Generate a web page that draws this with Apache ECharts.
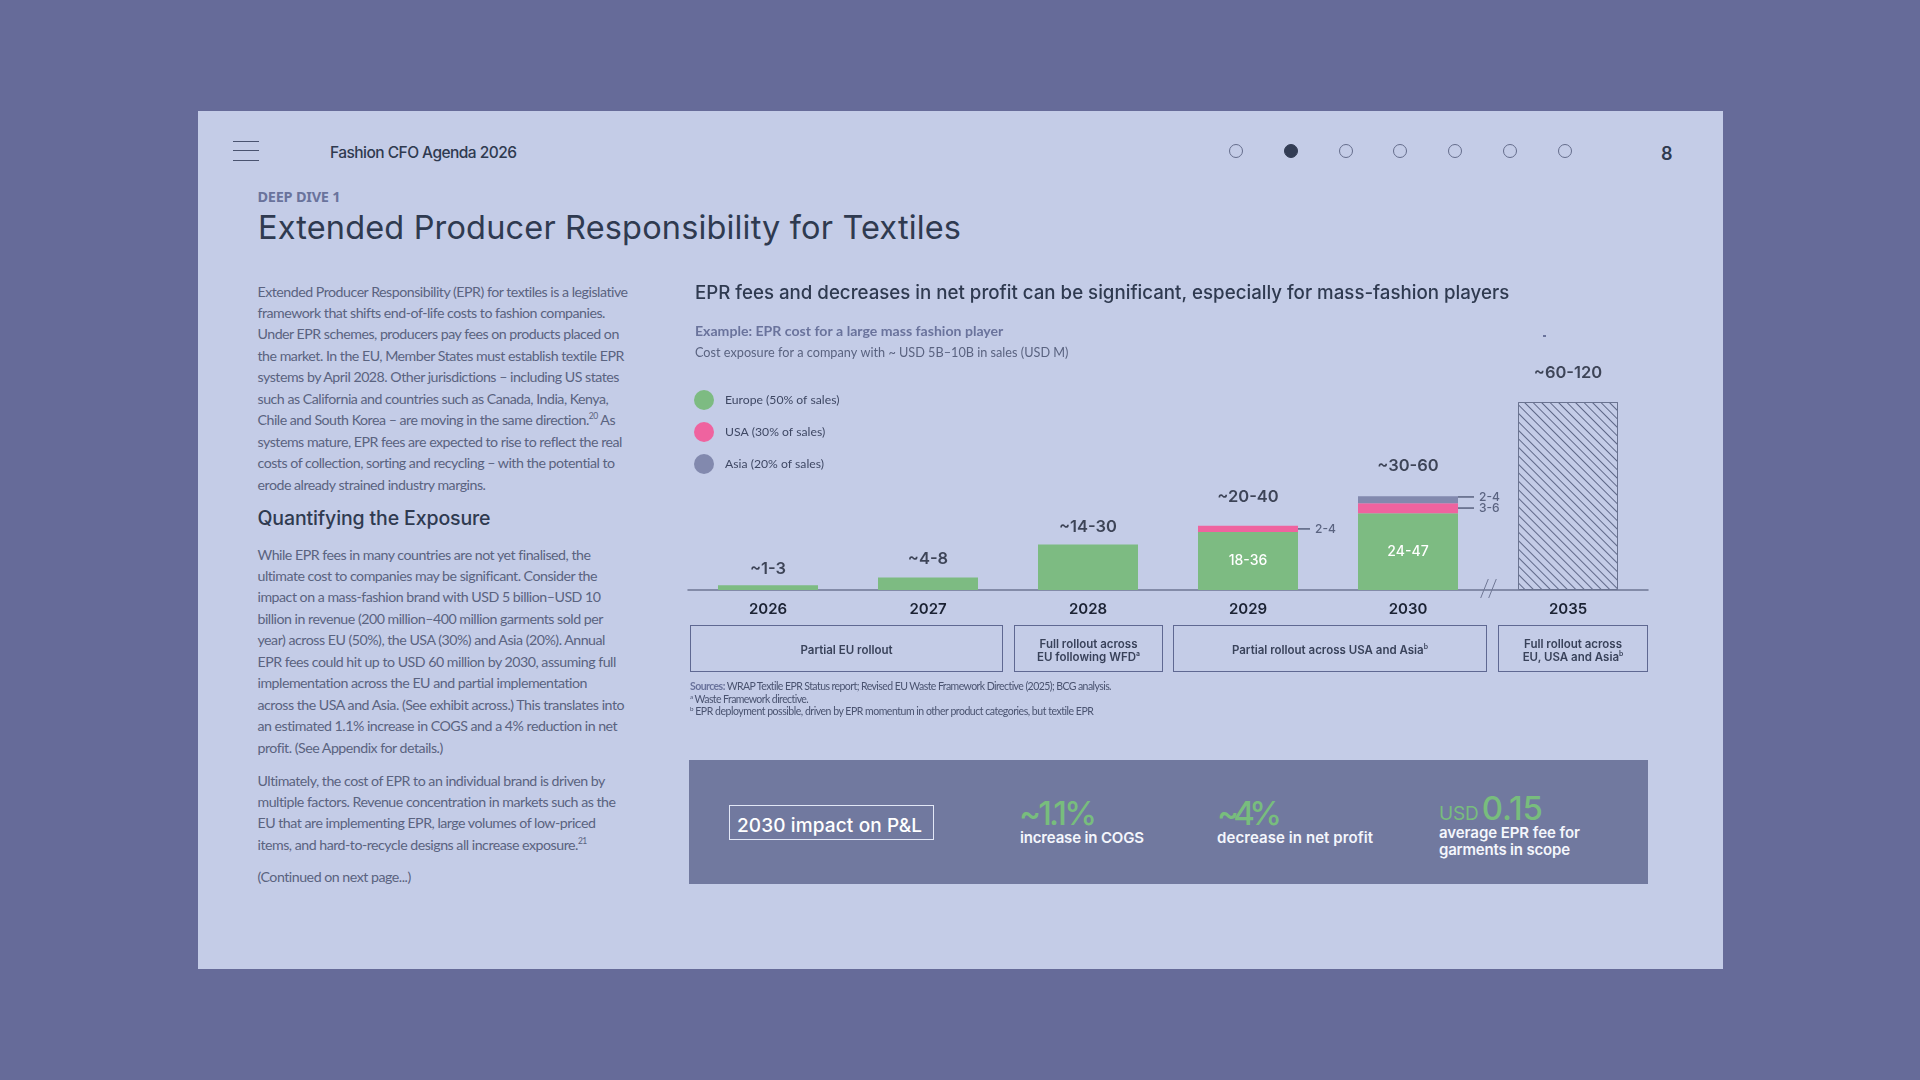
<!DOCTYPE html>
<html><head><meta charset="utf-8">
<script src="https://cdn.jsdelivr.net/npm/echarts@6/dist/echarts.min.js"></script>
<style>
html,body{margin:0;padding:0;width:1920px;height:1080px;overflow:hidden;background:#666b99}
#panel{position:absolute;left:198px;top:111px;width:1525px;height:858px;background:#c4cce7}
#chart{position:absolute;left:680px;top:270px;width:1000px;height:460px}
.t{position:absolute;white-space:nowrap;transform:translateY(-50%);line-height:1.2}
.box{position:absolute;box-sizing:border-box;border:1.5px solid #5f6892}
.dot{position:absolute;box-sizing:border-box;width:14px;height:14px;border-radius:50%;border:1.3px solid #656d8c}
.bar{position:absolute;left:233px;width:26px;height:1.4px;background:#4a5370}
sup{font-size:60%;line-height:0;vertical-align:super}
</style></head><body>
<div id="panel"></div><div id="chart"></div>
<script>
const categories=['2026','2027','2028','2029','2030','2035'];
const europe=[3,8,29,37,49,null];
const usa=[null,null,null,4,6.4,null];
const asia=[null,null,null,null,4.5,null];
const projected=[null,null,null,null,null,120];
const totalLabels=['~1-3','~4-8','~14-30','~20-40','~30-60','~60-120'];
const europeLabels=['','','','18-36','24-47',''];
const seriesNames=['Europe (50% of sales)','USA (30% of sales)','Asia (20% of sales)'];
const annotationIndex=[3,4,4];
const annotationLevel=[39,59.4,52.3];
const annotationText=['2-4','2-4','3-6'];

const headerDots=[0,1,2,3,4,5,6];
const bodyOne=['Extended Producer Responsibility (EPR) for textiles is a legislative','framework that shifts end-of-life costs to fashion companies.','Under EPR schemes, producers pay fees on products placed on','the market. In the EU, Member States must establish textile EPR','systems by April 2028. Other jurisdictions – including US states','such as California and countries such as Canada, India, Kenya,','Chile and South Korea – are moving in the same direction.<sup>20</sup> As','systems mature, EPR fees are expected to rise to reflect the real','costs of collection, sorting and recycling – with the potential to','erode already strained industry margins.'];
const bodyTwo=['While EPR fees in many countries are not yet finalised, the','ultimate cost to companies may be significant. Consider the','impact on a mass-fashion brand with USD 5 billion–USD 10','billion in revenue (200 million–400 million garments sold per','year) across EU (50%), the USA (30%) and Asia (20%). Annual','EPR fees could hit up to USD 60 million by 2030, assuming full','implementation across the EU and partial implementation','across the USA and Asia. (See exhibit across.) This translates into','an estimated 1.1% increase in COGS and a 4% reduction in net','profit. (See Appendix for details.)'];
const bodyThree=['Ultimately, the cost of EPR to an individual brand is driven by','multiple factors. Revenue concentration in markets such as the','EU that are implementing EPR, large volumes of low-priced','items, and hard-to-recycle designs all increase exposure.<sup>21</sup>'];

const SANS='Inter, sans-serif', BODY='Lato, sans-serif';
const INK='#2f3a50', BODYINK='#5a6380', SLATE='#6a739c', GREEN='#78bd7d';

function addText(html,x,y,css,targetWidth){
  const d=document.createElement('div');d.className='t';d.innerHTML=html;
  d.style.cssText=`left:${x}px;top:${y}px;${css}`;
  document.body.appendChild(d);
  if(targetWidth){
    const n=d.textContent.length-1;
    const w=d.getBoundingClientRect().width;
    d.style.letterSpacing=((targetWidth-w)/n).toFixed(3)+'px';
  }
  return d;
}
function addBlock(lines,x,y0,step,css,spacing){
  lines.forEach((l,i)=>addText(l,x,y0+i*step,css+`letter-spacing:${spacing}px;`));
}
function spacingFor(text,css,target){
  const d=addText(text,0,-100,css);const w=d.getBoundingClientRect().width;const n=d.textContent.length-1;d.remove();
  return (target-w)/n;
}
function build(){
  [141,150,159.5].forEach(y=>{const b=document.createElement('div');b.className='bar';b.style.top=y+'px';document.body.appendChild(b);});
  addText('Fashion CFO Agenda 2026',330,152,`font:500 15.5px ${SANS};color:${INK};`,187);
  headerDots.forEach(i=>{const d=document.createElement('div');d.className='dot';
    d.style.left=(1229+i*54.8)+'px';d.style.top='144px';
    if(i===1){d.style.background='#333d55';d.style.borderColor='#333d55';}
    document.body.appendChild(d);});
  addText('8',1661,153,`font:600 18px ${SANS};color:${INK};`);
  addText('DEEP DIVE 1',257.5,196,`font:700 14.5px 'Noto Sans',sans-serif;color:${SLATE};`,83);
  addText('Extended Producer Responsibility for Textiles',258,227,`font:400 32.5px ${SANS};color:${INK};`,703);
  const bodyCss=`font:400 14.2px ${BODY};color:${BODYINK};`;
  const sp=spacingFor(bodyOne[0],bodyCss,371);
  addBlock(bodyOne,257.5,290.5,21.45,bodyCss,sp);
  addText('Quantifying the Exposure',257.5,518,`font:500 19.5px ${SANS};color:${INK};`,233);
  addBlock(bodyTwo,257.5,553.5,21.45,bodyCss,sp);
  addBlock(bodyThree,257.5,779.5,21.45,bodyCss,sp);
  addText('(Continued on next page...)',257.5,876,bodyCss,154);
  const boxes=[[690,313,['Partial EU rollout']],[1014,149,['Full rollout across','EU following WFD<sup>a</sup>']],[1173,314,['Partial rollout across USA and Asia<sup>b</sup>']],[1498,150,['Full rollout across','EU, USA and Asia<sup>b</sup>']]];
  boxes.forEach(([x,w,lines])=>{
    const b=document.createElement('div');b.className='box';
    b.style.cssText=`left:${x}px;top:625px;width:${w}px;height:47px;`;document.body.appendChild(b);
    lines.forEach((l,i)=>{
      const y=lines.length===1?650:643.5+i*13;
      const d=addText(l,x+w/2,y,`font:600 11.5px ${SANS};color:#39425a;text-align:center;`);
      d.style.transform='translate(-50%,-50%)';
    });
  });
  const noteCss=`font:400 10.5px ${BODY};color:#4a5370;`;
  addText(`<b style="color:${SLATE}">Sources:</b> WRAP Textile EPR Status report; Revised EU Waste Framework Directive (2025); BCG analysis.`,690,686,noteCss,422);
  addText('<sup>a</sup> Waste Framework directive.',690,698.5,noteCss,119);
  addText('<sup>b</sup> EPR deployment possible, driven by EPR momentum in other product categories, but textile EPR',690,711,noteCss,404);
  const speck=document.createElement('div');speck.style.cssText='position:absolute;left:1543px;top:335px;width:3px;height:1.5px;background:#6a739c;';document.body.appendChild(speck);
  const k=document.createElement('div');k.style.cssText='position:absolute;left:689px;top:760px;width:959px;height:124px;background:#71799f;';document.body.appendChild(k);
  const f=document.createElement('div');f.style.cssText='position:absolute;box-sizing:border-box;left:729px;top:805px;width:205px;height:35px;border:1.5px solid #e2e7f6;';document.body.appendChild(f);
  addText('2030 impact on P&amp;L',737,824.5,`font:500 19px ${SANS};color:#fff;`,185);
  const big=`font:500 33px ${SANS};color:${GREEN};`, sub=`font:600 15px ${SANS};color:#f4f6fc;`;
  addText('~1.1%',1019,813,big,78);
  addText('increase in COGS',1020,836.5,sub,124);
  addText('~4%',1217,813,big,65);
  addText('decrease in net profit',1217,836.5,sub,156);
  addText(`<span style="font-size:19px;font-weight:400;margin-right:3px">USD</span>0.15`,1439,808,big,104);
  addText('average EPR fee for',1439,832,sub,141);
  addText('garments in scope',1439,849,sub,131);

  const chart=echarts.init(document.getElementById('chart'));
  const totals=categories.map((c,i)=>(europe[i]||0)+(usa[i]||0)+(asia[i]||0)+(projected[i]||0));
  const labelDistance=[8,10,9.5,20,22,20];
  chart.setOption({
    animation:false,
    backgroundColor:'transparent',
    title:[
      {text:'EPR fees and decreases in net profit can be significant, especially for mass-fashion players',left:10,top:9,textStyle:{fontFamily:'Inter',fontWeight:500,fontSize:18.7,color:INK}},
      {text:'Example: EPR cost for a large mass fashion player',left:10,top:49.5,textStyle:{fontFamily:'Lato',fontWeight:700,fontSize:14.1,color:SLATE}},
      {text:'Cost exposure for a company with ~ USD 5B–10B in sales (USD M)',left:10,top:71.5,textStyle:{fontFamily:'Lato',fontWeight:400,fontSize:12.7,color:BODYINK}}
    ],
    legend:{orient:'vertical',left:9,top:115,itemWidth:20,itemHeight:20,itemGap:12,icon:'circle',data:seriesNames,selectedMode:false,
      textStyle:{fontFamily:'Lato',fontSize:12.2,color:'#3f4864',padding:[0,0,0,6]}},
    grid:{left:8,right:32,top:85,height:235},
    xAxis:{type:'category',data:categories,axisTick:{show:false},
      axisLine:{lineStyle:{color:'#6e7694',width:1.5}},
      axisLabel:{margin:12,fontFamily:'Inter',fontWeight:600,fontSize:15,color:'#1b2233'}},
    yAxis:{type:'value',min:0,max:150,show:false,splitLine:{show:false}},
    series:[
      {name:seriesNames[0],type:'bar',stack:'t',barWidth:100,data:europe,itemStyle:{color:'#7dbb82'},
        label:{show:true,position:'inside',fontFamily:'Inter',fontWeight:500,fontSize:14,color:'#fff',formatter:p=>europeLabels[p.dataIndex]}},
      {name:seriesNames[1],type:'bar',stack:'t',barWidth:100,data:usa,itemStyle:{color:'#ef639f'}},
      {name:seriesNames[2],type:'bar',stack:'t',barWidth:100,data:asia,itemStyle:{color:'#8289ae'}},
      {name:'2035 projection',type:'bar',stack:'t',barWidth:100,data:projected,
        itemStyle:{color:'#c4cce7',borderColor:'#6a7390',borderWidth:1,
          decal:{symbol:'rect',color:'#5f6888',backgroundColor:'#c4cce7',dashArrayX:[1,0],dashArrayY:[1,4.4],rotation:Math.PI/4,symbolSize:1}}},
      {name:'totals',type:'scatter',symbolSize:0,silent:true,
        data:totals.map((v,i)=>({value:[i,v],label:{distance:labelDistance[i]}})),
        label:{show:true,position:'top',fontFamily:'Inter',fontWeight:600,fontSize:16.5,color:'#1b2233',formatter:p=>totalLabels[p.dataIndex]}},
      {name:'annotations',type:'custom',silent:true,
        data:annotationIndex.map((c,i)=>[c,annotationLevel[i]]),
        renderItem:(params,api)=>{
          const p=api.coord([api.value(0),api.value(1)]);
          const x0=p[0]+50,len=params.dataIndex===0?12:16;
          return {type:'group',children:[
            {type:'line',shape:{x1:x0,y1:p[1],x2:x0+len,y2:p[1]},style:{stroke:'#5f6885',lineWidth:1.6}},
            {type:'text',style:{x:x0+len+5,y:p[1],text:annotationText[params.dataIndex],fill:'#5a6380',font:'500 12px Inter',verticalAlign:'middle'}}
          ]};
        }},
      {name:'axis break',type:'custom',silent:true,data:[[4,0]],
        renderItem:(params,api)=>{
          const p=api.coord([4,0]);const mid=p[0]+api.size([1,0])[0]/2;
          return {type:'group',children:[-3.5,4.5].map(d=>({type:'line',
            shape:{x1:mid+d-3.8,y1:p[1]+8,x2:mid+d+3.8,y2:p[1]-11},style:{stroke:'#6f7795',lineWidth:1}}))};
        }}
    ]
  });
}
(document.fonts&&document.fonts.load?Promise.all(['400 15px Lato','700 15px Lato','400 15px Inter','500 15px Inter','600 15px Inter','700 15px "Noto Sans"'].map(f=>document.fonts.load(f))):Promise.resolve()).then(build,build);
</script>
</body></html>
